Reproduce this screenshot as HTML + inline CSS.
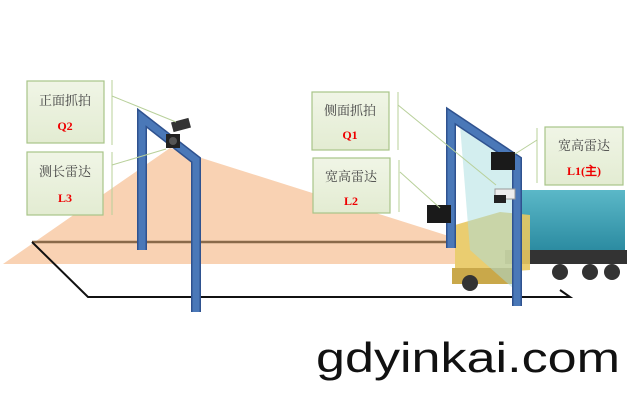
<!DOCTYPE html>
<html><head><meta charset="utf-8"><style>
html,body{margin:0;padding:0;background:#fff;width:627px;height:405px;overflow:hidden}
.t{font-family:"Liberation Serif","Noto Serif CJK SC",serif;font-size:13px;fill:#444;text-anchor:middle}
.r{font-family:"Liberation Serif",serif;font-size:12px;font-weight:bold;fill:#e00;text-anchor:middle}
</style></head><body>
<svg width="627" height="405" viewBox="0 0 627 405" xmlns="http://www.w3.org/2000/svg">
<defs>
<linearGradient id="bx" x1="0" y1="0" x2="0" y2="1"><stop offset="0" stop-color="#f0f5e6"/><stop offset="1" stop-color="#e3ecd2"/></linearGradient>
<linearGradient id="ct" x1="0" y1="0" x2="0" y2="1"><stop offset="0" stop-color="#5bb8c8"/><stop offset="1" stop-color="#2a8aa0"/></linearGradient>
</defs>
<!-- peach fan -->
<polygon points="3,264 170,148 455,238 455,264" fill="#f9d2b3"/>
<!-- ground lines -->
<line x1="32" y1="242" x2="455" y2="242" stroke="#8a6a4a" stroke-width="2.5"/>
<polyline points="32,242 88,297 570,297 560,290" fill="none" stroke="#111" stroke-width="2"/>
<!-- left gantry -->
<polyline points="142,250 142,118 196,160 196,312" fill="none" stroke="#2f528f" stroke-width="10" stroke-linejoin="miter"/>
<polyline points="142,250 142,118 196,160 196,312" fill="none" stroke="#4a78b8" stroke-width="7" stroke-linejoin="miter"/>
<!-- cameras left -->
<rect x="172" y="120" width="18" height="10" fill="#333" transform="rotate(-15 181 125)"/>
<rect x="166" y="134" width="14" height="14" fill="#222"/><circle cx="173" cy="141" r="4" fill="#555"/>
<!-- truck -->
<rect x="520" y="190" width="105" height="62" fill="url(#ct)"/>
<rect x="505" y="250" width="122" height="14" fill="#333"/>
<polygon points="455,225 500,212 530,215 530,270 455,275" fill="#e8c860" opacity="0.9"/>
<rect x="452" y="268" width="70" height="16" fill="#c9a84a"/>
<circle cx="470" cy="283" r="8" fill="#333"/><circle cx="560" cy="272" r="8" fill="#333"/><circle cx="590" cy="272" r="8" fill="#333"/><circle cx="612" cy="272" r="8" fill="#333"/>
<!-- light beam right -->
<polygon points="460,125 515,160 515,290 470,250" fill="#a8dde0" opacity="0.5"/>
<!-- right gantry -->
<polyline points="451,248 451,116 517,160 517,306" fill="none" stroke="#2f528f" stroke-width="10"/>
<polyline points="451,248 451,116 517,160 517,306" fill="none" stroke="#4a78b8" stroke-width="7"/>
<!-- right devices -->
<rect x="491" y="152" width="24" height="18" fill="#1a1a1a"/>
<rect x="427" y="205" width="24" height="18" fill="#1a1a1a"/>
<rect x="495" y="189" width="20" height="10" fill="#eee" stroke="#999"/><rect x="494" y="195" width="12" height="8" fill="#222"/>
<!-- connector lines -->
<g stroke="#b8d09a" stroke-width="1" fill="none">
<line x1="112" y1="80" x2="112" y2="145"/><line x1="112" y1="96" x2="176" y2="122"/>
<line x1="112" y1="152" x2="112" y2="215"/><line x1="112" y1="165" x2="166" y2="149"/>
<line x1="398" y1="92" x2="398" y2="150"/><line x1="398" y1="105" x2="496" y2="185"/>
<line x1="399" y1="160" x2="399" y2="212"/><line x1="400" y1="172" x2="440" y2="208"/>
<line x1="537" y1="128" x2="537" y2="183"/><line x1="537" y1="140" x2="515" y2="154"/>
</g>
<!-- label boxes -->
<g fill="url(#bx)" stroke="#a8c488" stroke-width="1.2">
<rect x="27" y="81" width="77" height="62"/>
<rect x="27" y="152" width="76" height="63"/>
<rect x="312" y="92" width="77" height="58"/>
<rect x="313" y="158" width="77" height="55"/>
<rect x="545" y="127" width="78" height="58"/>
</g>
<text class="t" x="65" y="105">正面抓拍</text><text class="r" x="65" y="130">Q2</text>
<text class="t" x="65" y="176">测长雷达</text><text class="r" x="65" y="202">L3</text>
<text class="t" x="350" y="115">侧面抓拍</text><text class="r" x="350" y="139">Q1</text>
<text class="t" x="351" y="181">宽高雷达</text><text class="r" x="351" y="205">L2</text>
<text class="t" x="584" y="150">宽高雷达</text><text class="r" x="584" y="175">L1(主)</text>
<text x="316" y="372" font-family="Liberation Sans,sans-serif" font-size="42" fill="#111" textLength="304" lengthAdjust="spacingAndGlyphs">gdyinkai.com</text>
</svg>
</body></html>
